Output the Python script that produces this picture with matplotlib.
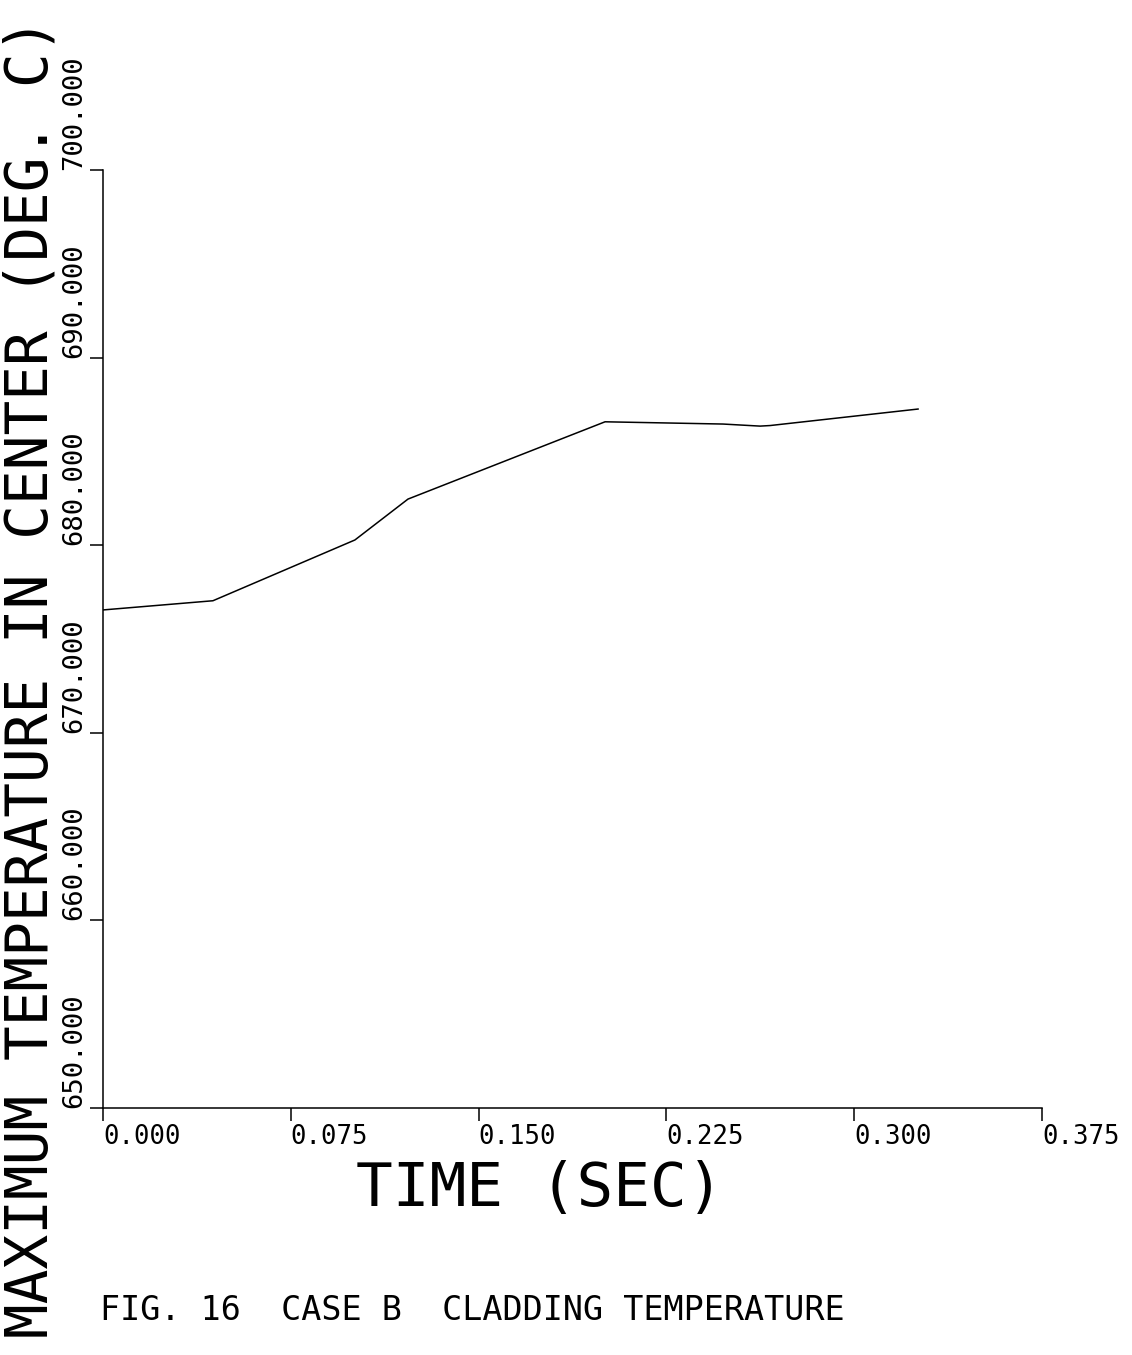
import matplotlib
matplotlib.use("Agg")
import matplotlib.pyplot as plt

# values
time_sec = [0.0, 0.0439, 0.1006, 0.1218, 0.2005, 0.2476, 0.2624, 0.2664, 0.3255]
temp_c = [676.55, 677.04, 680.28, 682.46, 686.58, 686.46, 686.35, 686.38, 687.26]

x_ticks = [0.0, 0.075, 0.150, 0.225, 0.300, 0.375]
x_tick_labels = ["0.000", "0.075", "0.150", "0.225", "0.300", "0.375"]
y_ticks = [650, 660, 670, 680, 690, 700]
y_tick_labels = ["650.000", "660.000", "670.000", "680.000", "690.000", "700.000"]

font = "DejaVu Sans Mono"

fig = plt.figure(figsize=(11.32, 13.55), dpi=100)
ax = fig.add_axes([0.091, 0.1823, 0.8295, 0.6922])

ax.plot(time_sec, temp_c, color="black", linewidth=1.1)

ax.set_xlim(0, 0.375)
ax.set_ylim(650, 700)
ax.spines["top"].set_visible(False)
ax.spines["right"].set_visible(False)
for s in ("left", "bottom"):
    ax.spines[s].set_linewidth(1.1)

ax.set_xticks(x_ticks)
ax.set_xticklabels(x_tick_labels, fontsize=18.5, family=font, ha="left")
ax.set_yticks(y_ticks)
ax.set_yticklabels(y_tick_labels, fontsize=19.5, family=font, rotation=90,
                   va="bottom", ha="right")
ax.tick_params(axis="both", direction="out", length=9.5, width=1.1, pad=2)

ax.set_xlabel("TIME (SEC)", fontsize=44, family=font)
ax.xaxis.set_label_coords(0.465, -0.055)

fig.text(0.027, 0.5, "MAXIMUM TEMPERATURE IN CENTER (DEG. C)", rotation=90,
         fontsize=41.5, family=font, ha="center", va="center")
fig.text(0.088, 0.033, "FIG. 16  CASE B  CLADDING TEMPERATURE",
         fontsize=24, family=font, ha="left", va="center")

fig.savefig("out.png", dpi=100, facecolor="white")
